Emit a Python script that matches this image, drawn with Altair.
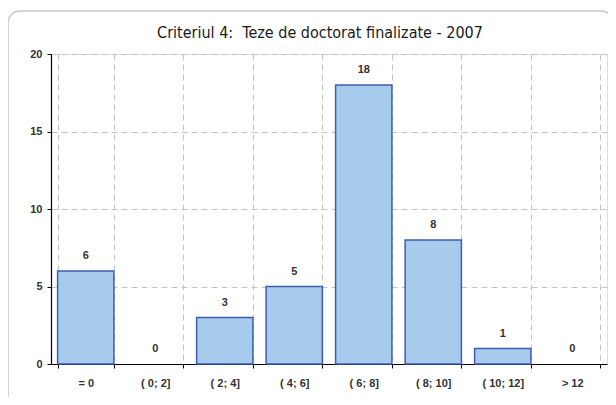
import altair as alt
import pandas as pd

categories = ["= 0", "( 0; 2]", "( 2; 4]", "( 4; 6]", "( 6; 8]", "( 8; 10]", "( 10; 12]", "> 12"]
values = [6, 0, 3, 5, 18, 8, 1, 0]
y_ticks = [0, 5, 10, 15, 20]
title_text = "Criteriul 4:\u00a0 Teze de doctorat finalizate - 2007"

df = pd.DataFrame({"cat": categories, "val": values})

FONT = "Liberation Sans"
W, H = 556, 310

xenc = alt.X(
    "cat:N",
    sort=categories,
    scale=alt.Scale(paddingInner=0.19, paddingOuter=0.095),
    axis=alt.Axis(
        title=None, labelAngle=0, tickBand="extent", grid=True,
        gridDash=[6, 4], gridColor="#c4c4c4", gridWidth=1,
        domainColor="#000000", domainWidth=1.2,
        tickColor="#000000", tickSize=4, labelPadding=9,
        labelFont=FONT, labelFontSize=11, labelFontWeight="bold", labelColor="#333333",
    ),
)
yenc = alt.Y(
    "val:Q",
    scale=alt.Scale(domain=[0, 20], nice=False),
    axis=alt.Axis(
        title=None, values=y_ticks, grid=True,
        gridDash=[6, 4], gridColor="#c4c4c4", gridWidth=1,
        domainColor="#000000", domainWidth=1.2,
        tickColor="#000000", tickSize=4, labelPadding=5,
        labelFont=FONT, labelFontSize=11, labelFontWeight="bold", labelColor="#333333",
    ),
)

base = alt.Chart(df)

bars = base.transform_filter("datum.val > 0").mark_bar(
    fill="#a7cbed", stroke="#3f5caf", strokeWidth=1.5
).encode(x=xenc, y=yenc)

labels = base.mark_text(
    font=FONT, fontSize=11, fontWeight="bold", color="#333333",
    baseline="middle", dy=-15
).encode(x=alt.X("cat:N", sort=categories), y=alt.Y("val:Q"), text="val:Q")

one = alt.Chart(pd.DataFrame({"t": [title_text]}))

frame = one.mark_rect(
    fill=None, stroke="#c8c8c8", strokeWidth=1.5, cornerRadius=12
).encode(
    x=alt.value(-43), x2=alt.value(W + 6),
    y=alt.value(-43), y2=alt.value(H + 60),
)

title = one.mark_text(
    font="DejaVu Sans Condensed, Liberation Sans", fontSize=16, color="#1a1a1a",
    align="center", baseline="alphabetic"
).encode(x=alt.value(269), y=alt.value(-16), text="t:N")

chart = alt.layer(frame, bars, labels, title).properties(
    width=W, height=H,
    autosize=alt.AutoSizeParams(type="none"),
    padding={"left": 43, "top": 46, "right": 1, "bottom": 33},
).configure_view(stroke="#9a9a9a", strokeWidth=1.5).configure(background="white")

chart.save("out.html", embed_options={"renderer": "svg", "actions": False})
